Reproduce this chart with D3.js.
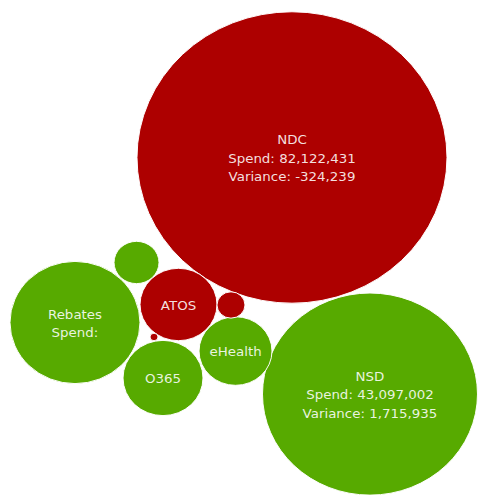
<!DOCTYPE html>
<html><head><meta charset="utf-8">
<script src="https://cdn.jsdelivr.net/npm/d3@7"></script>
<style>html,body{margin:0;padding:0;background:#fff;overflow:hidden}</style>
</head><body><svg id="chart" width="486" height="496"></svg>
<script>
// ---- data ----
const categories = ["NDC", "NSD", "Rebates", "O365", "ATOS", "eHealth", "Other A", "Other B", "Other C"];
const spend = [82122431, 43097002, 18750000, 9095000, 8626000, 8019000, 4392000, 2719000, 1261000];
const variance = [-324239, 1715935, 410000, 120000, -95000, 85000, 40000, -30000, -8000];
// number of label lines Tableau chose to show per bubble
const labelLines = [3, 3, 2, 1, 1, 1, 0, 0, 0];
// packed-bubble layout (fractions of the chart area)
const packX = [0.6008, 0.7613, 0.1543, 0.3354, 0.3673, 0.4846, 0.2809, 0.4753, 0.3169];
const packY = [0.3175, 0.7945, 0.6502, 0.7621, 0.6139, 0.7077, 0.5292, 0.6149, 0.6794];

// ---- chart ----
const W = 486, H = 496, ky = 0.94;
const svg = d3.select("#chart");
const x = d3.scaleLinear().domain([0, 1]).range([0, W]);
const y = d3.scaleLinear().domain([0, 1]).range([0, H]);
const r = d3.scaleSqrt().domain([43097002, 82122431]).range([107.5, 155]);
const color = d3.scaleThreshold().domain([0]).range(["#ad0000", "#57aa00"]);
const fmt = d3.formatLocale({decimal: ".", thousands: ",", grouping: [3], currency: ["", ""], minus: "-"}).format(",");

const data = categories.map((c, i) => ({
  name: c, spend: spend[i], variance: variance[i], n: labelLines[i], px: packX[i], py: packY[i]
}));

const g = svg.selectAll("g.bubble").data(data).join("g")
  .attr("class", "bubble")
  .attr("transform", d => `translate(${x(d.px)},${y(d.py)}) scale(1,${ky})`);

g.append("circle")
  .attr("r", d => r(d.spend))
  .attr("fill", d => color(d.variance))
  .attr("stroke", "#ffffff")
  .attr("stroke-width", 1);

const lh = 19.7;
g.each(function(d) {
  const rr = r(d.spend);
  const lines = [d.name, "Spend: " + fmt(d.spend), "Variance: " + fmt(d.variance)].slice(0, d.n);
  const grp = d3.select(this);
  lines.forEach((t, i) => {
    const off = (i - (lines.length - 1) / 2) * lh + 1;
    const tx = grp.append("text")
      .attr("x", 0).attr("y", off)
      .attr("text-anchor", "middle")
      .attr("dominant-baseline", "central")
      .attr("font-family", "DejaVu Sans, Verdana, sans-serif")
      .attr("font-size", 13.4)
      .attr("fill", "#ffffff")
      .attr("fill-opacity", 0.88)
      .text(t);
    const avail = 2 * Math.sqrt(Math.max(0, rr * rr - off * off)) * 0.9;
    if (tx.node().getComputedTextLength() > avail && t.indexOf(":") > 0) {
      tx.text(t.slice(0, t.indexOf(":") + 1));
    }
  });
});
</script>
</body></html>
